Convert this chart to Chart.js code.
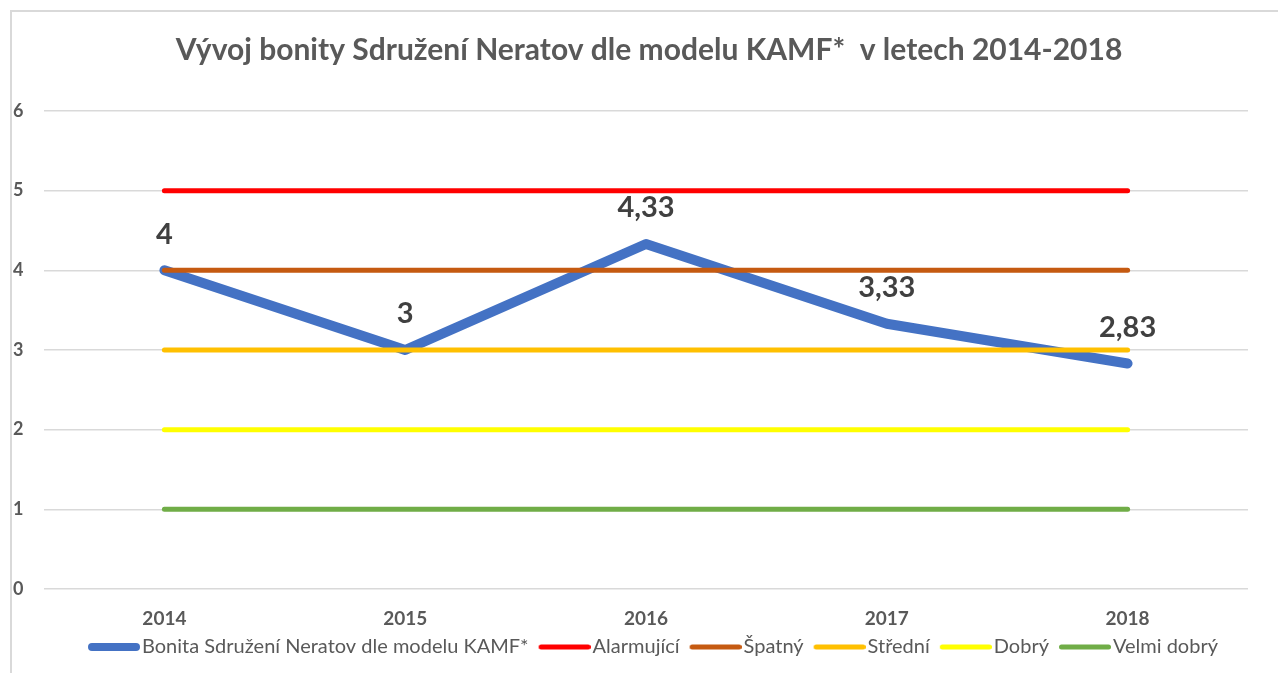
<!DOCTYPE html>
<html>
<head>
<meta charset="utf-8">
<script src="https://cdn.jsdelivr.net/npm/chart.js@4.4.1/dist/chart.umd.min.js"></script>
<style>
  html, body { margin: 0; padding: 0; background: #fff; overflow: hidden; }
  #wrap { width: 1278px; height: 673px; overflow: hidden; }
</style>
</head>
<body>
<div id="wrap"><canvas id="c" width="1300" height="673"></canvas></div>
<script>
// data
const years = ['2014', '2015', '2016', '2017', '2018'];
const bonita = [4, 3, 4.33, 3.33, 2.83];
const alarmujici = [5, 5, 5, 5, 5];
const spatny = [4, 4, 4, 4, 4];
const stredni = [3, 3, 3, 3, 3];
const dobry = [2, 2, 2, 2, 2];
const velmiDobry = [1, 1, 1, 1, 1];
const yTicks = [0, 1, 2, 3, 4, 5, 6];

const FONT = 'Lato, "Open Sans", sans-serif';
const GREY = '#595959';

// legend symbol: long rounded stroke that runs right up to the label text
const legendLine = (color, width) => {
  const cv = document.createElement('canvas');
  cv.width = 68;
  cv.height = 12;
  const g = cv.getContext('2d');
  g.strokeStyle = color;
  g.lineWidth = width;
  g.lineCap = 'round';
  g.beginPath();
  g.moveTo(16 + width / 2, 6);
  g.lineTo(68 - width / 2, 6);
  g.stroke();
  return cv;
};

// frame of the chart object (the right and bottom edges are cut off in the original)
const framePlugin = {
  id: 'frame',
  beforeDraw(chart) {
    const ctx = chart.ctx;
    ctx.save();
    ctx.strokeStyle = '#d9d9d9';
    ctx.lineWidth = 2;
    ctx.beginPath();
    ctx.moveTo(11, chart.height);
    ctx.lineTo(11, 11);
    ctx.lineTo(chart.width, 11);
    ctx.stroke();
    ctx.restore();
  }
};

// value labels above the blue line, Czech decimal comma
const valueLabels = {
  id: 'valueLabels',
  afterDatasetsDraw(chart) {
    const ctx = chart.ctx;
    const meta = chart.getDatasetMeta(0);
    ctx.save();
    ctx.font = 'bold 29px ' + FONT;
    ctx.fillStyle = '#404040';
    ctx.textAlign = 'center';
    ctx.textBaseline = 'middle';
    meta.data.forEach((pt, i) => {
      const txt = String(bonita[i]).replace('.', ',');
      ctx.fillText(txt, pt.x, pt.y - 36);
    });
    ctx.restore();
  }
};

const flatLine = (label, data, color) => ({
  label: label,
  data: data,
  borderColor: color,
  backgroundColor: color,
  borderWidth: 5,
  borderCapStyle: 'round',
  pointRadius: 0,
  pointStyle: legendLine(color, 5),
  tension: 0,
  order: 0
});

new Chart(document.getElementById('c'), {
  type: 'line',
  data: {
    labels: years,
    datasets: [
      {
        label: 'Bonita Sdružení Neratov dle modelu KAMF*',
        data: bonita,
        borderColor: '#4472C4',
        backgroundColor: '#4472C4',
        borderWidth: 10,
        borderCapStyle: 'round',
        borderJoinStyle: 'round',
        pointRadius: 0,
        pointStyle: legendLine('#4472C4', 8),
        tension: 0,
        order: 10
      },
      flatLine('Alarmující', alarmujici, '#FF0000'),
      flatLine('Špatný', spatny, '#C55A11'),
      flatLine('Střední', stredni, '#FFC000'),
      flatLine('Dobrý', dobry, '#FFFF00'),
      flatLine('Velmi dobrý', velmiDobry, '#70AD47')
    ]
  },
  options: {
    responsive: false,
    animation: false,
    layout: { padding: { left: 13, right: 15, top: 20, bottom: 6 } },
    scales: {
      x: {
        offset: true,
        afterFit: (axis) => { axis.height = 46; },
        grid: { display: false, drawTicks: false },
        border: { display: false },
        ticks: { color: GREY, font: { family: FONT, size: 19, weight: 'bold' }, padding: 18 }
      },
      y: {
        min: 0,
        max: 6,
        afterBuildTicks: (axis) => { axis.ticks = yTicks.map(v => ({ value: v })); },
        afterFit: (axis) => { axis.width = 31; },
        grid: { color: '#d9d9d9', lineWidth: 1.5, drawTicks: false },
        border: { display: false },
        ticks: { color: GREY, crossAlign: 'far', font: { family: FONT, size: 18, weight: 'bold' } }
      },
      // empty space right of the plot area, as in the Excel original
      spacer: {
        type: 'linear',
        position: 'right',
        afterFit: (axis) => { axis.width = 37; },
        grid: { display: false, drawTicks: false },
        border: { display: false },
        ticks: { display: false }
      }
    },
    plugins: {
      title: {
        display: true,
        text: 'Vývoj bonity Sdružení Neratov dle modelu KAMF*  v letech 2014-2018',
        color: GREY,
        font: { family: FONT, size: 30, weight: 'bold' },
        padding: { top: 12, bottom: 43 }
      },
      legend: {
        position: 'bottom',
        labels: {
          color: GREY,
          font: { family: FONT, size: 20 },
          usePointStyle: true,
          pointStyleWidth: 52,
          padding: 2,
          sort: (a, b) => a.datasetIndex - b.datasetIndex
        }
      },
      tooltip: { enabled: false }
    }
  },
  plugins: [framePlugin, valueLabels]
});
</script>
</body>
</html>
